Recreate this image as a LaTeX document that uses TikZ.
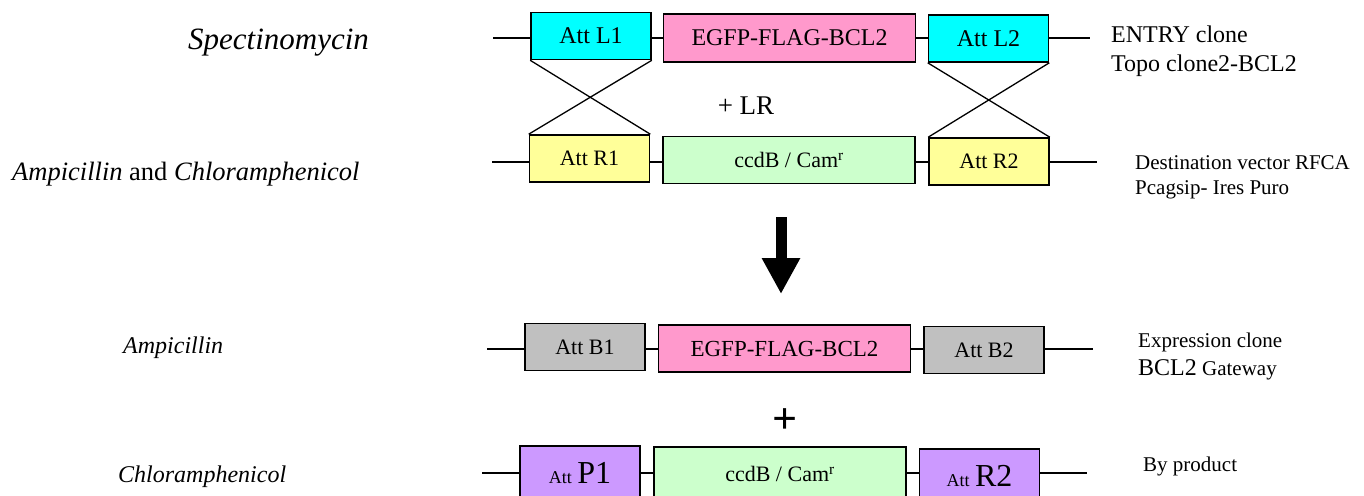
\documentclass[tikz,border=0pt]{standalone}
\usepackage{fontspec}
\setmainfont{Liberation Serif}
\usetikzlibrary{arrows.meta}
\definecolor{attL}{HTML}{00FFFF}
\definecolor{attR}{HTML}{FFFF99}
\definecolor{attB}{HTML}{C0C0C0}
\definecolor{attP}{HTML}{CC99FF}
\definecolor{egfp}{HTML}{FF99CC}
\definecolor{ccdb}{HTML}{CCFFCC}
\newcommand{\fs}[1]{\fontsize{#1}{#1}\selectfont}

\begin{document}
\begin{tikzpicture}[x=1pt, y=-1pt,
part/.style ={draw, line width=1.6pt, inner sep=0pt, minimum height=47pt},
att/.style ={part, minimum width=120pt, font=\fs{22}},
gene/.style ={part, minimum width=252pt, font=\fs{23}},
backbone/.style ={line width=1.6pt},
cross/.style ={line width=1.3pt},
note/.style ={anchor=base west, inner sep=0pt, font=\fs{21}},
drug/.style ={anchor=base west, inner sep=0pt, font=\fs{24}\itshape}]
\useasboundingbox (0,0) rectangle (1364,495);

% entry clone
\coordinate (t1a) at (493,38);
\coordinate (t1b) at (1090,38);
\draw[backbone] (t1a) -- (t1b);
\node[att, fill=attL, font=\fs{24}] (L1) at (591,36) {Att L1};
\node[gene, fill=egfp, font=\fs{24}, minimum height=48pt] (E1) at (789.5,38) {EGFP-FLAG-BCL2};
\node[att, fill=attL, font=\fs{24}] (L2) at (988.5,38.5) {Att L2};

% destination vector
\coordinate (t2a) at (492,162);
\coordinate (t2b) at (1097,162);
\draw[backbone] (t2a) -- (t2b);
\node[att, fill=attR] (R1) at (589.5,158.5) {Att R1};
\node[gene, fill=ccdb, font=\fs{22}] (C1) at (789,160) {ccdB / Cam\textsuperscript{r}};
\node[att, fill=attR] (R2) at (989,161.5) {Att R2};

% recombination
\draw[cross] (L1.south west) -- (R1.north east);
\draw[cross] (L1.south east) -- (R1.north west);
\draw[cross] (L2.south west) -- (R2.north east);
\draw[cross] (L2.south east) -- (R2.north west);
\node[font=\fs{27}] (LR) at (746,106) {+ LR};

\coordinate (a0) at (781,217);
\coordinate (a1) at (781,294);
\draw[line width=11pt, -{Triangle[width=36pt,length=36pt]}] (a0) -- (a1);

% expression clone
\coordinate (t3a) at (487,349);
\coordinate (t3b) at (1093,349);
\draw[backbone] (t3a) -- (t3b);
\node[att, fill=attB] (B1) at (585,347) {Att B1};
\node[gene, fill=egfp] (E2) at (784.5,348.5) {EGFP-FLAG-BCL2};
\node[att, fill=attB] (B2) at (984,350) {Att B2};

\node[font=\fs{44}\bfseries] (plus) at (785,421) {+};

% by product (cut off at the bottom)
\coordinate (t4a) at (482,473);
\coordinate (t4b) at (1087,473);
\draw[backbone] (t4a) -- (t4b);
\node[att, fill=attP, minimum height=54pt] (P1) at (580,473) {{\fs{18}Att} {\fs{32}P1}};
\node[gene, fill=ccdb, font=\fs{22}, minimum height=54pt] (C2) at (780,474) {ccdB / Cam\textsuperscript{r}};
\node[att, fill=attP, minimum height=54pt] (R3) at (979.5,476) {{\fs{18}Att} {\fs{32}R2}};

% antibiotics
\node[drug, font=\fs{31}\itshape] (spec) at (188,50) {Spectinomycin};
\node[drug, font=\fs{26.5}\itshape] (ampchl) at (12,180) {Ampicillin {\upshape and} Chloramphenicol};
\node[drug] (amp) at (123,353) {Ampicillin};
\node[drug] (chl) at (118,482) {Chloramphenicol};

% constructs
\node[note, font=\fs{24}] (entry) at (1111,43) {ENTRY clone};
\node[note, font=\fs{24}] (topo) at (1111,71) {Topo clone2-BCL2};
\node[note] (dest) at (1135,169) {Destination vector RFCA};
\node[note] (pcag) at (1135,194) {Pcagsip- Ires Puro};
\node[note] (expr) at (1138,347) {Expression clone};
\node[note] (gate) at (1138,375) {{\fs{24}BCL2} Gateway};
\node[note] (byprod) at (1143,471) {By product};
\end{tikzpicture}
\end{document}
